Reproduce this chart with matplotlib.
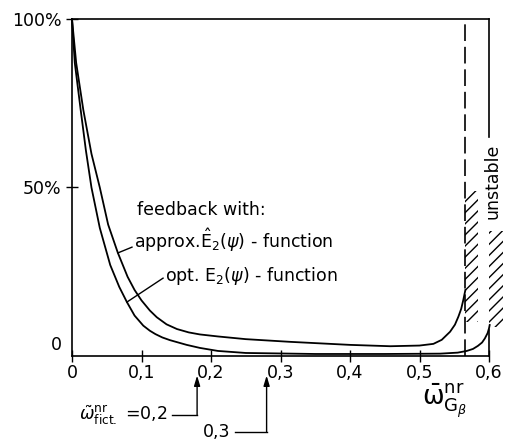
import matplotlib
matplotlib.use("Agg")
import matplotlib.pyplot as plt
from matplotlib.patches import Rectangle

# ---- data ----
approx_x = [0, 0.006, 0.0163, 0.028, 0.040, 0.052, 0.066, 0.080, 0.090, 0.100, 0.112, 0.122,
            0.136, 0.151, 0.168, 0.184, 0.21, 0.25, 0.314, 0.40, 0.458, 0.50, 0.520, 0.532,
            0.544, 0.551, 0.556, 0.560, 0.563, 0.566]
approx_y = [100, 87, 73, 60, 50, 39, 30.6, 23.5, 19.6, 16.5, 13.5, 11.5,
            9.4, 8.0, 7.0, 6.4, 5.8, 5.0, 4.2, 3.3, 2.9, 3.1, 3.6, 4.8,
            7.2, 9.3, 11.7, 14.0, 16.6, 19.6]

opt_x = [0, 0.004, 0.0125, 0.020, 0.028, 0.040, 0.055, 0.068, 0.079, 0.090, 0.1026, 0.112,
         0.120, 0.130, 0.141, 0.165, 0.184, 0.21, 0.25, 0.35, 0.45, 0.53, 0.555, 0.568,
         0.577, 0.584, 0.590, 0.594, 0.598, 0.600, 0.601]
opt_y = [100, 87, 73, 61, 50, 38, 27, 20.5, 16.0, 12.0, 9.0, 7.5,
         6.5, 5.5, 4.7, 3.3, 2.4, 1.5, 0.9, 0.6, 0.6, 0.7, 1.0, 1.5,
         2.1, 3.0, 4.0, 5.2, 6.8, 8.2, 9.2]

x_ticks = [0, 0.1, 0.2, 0.3, 0.4, 0.5, 0.6]
x_ticklabels = ["0", "0,1", "0,2", "0,3", "0,4", "0,5", "0,6"]
y_ticks = [50, 100]
y_ticklabels = ["50%", "100%"]

stability_limit_opt = 0.565
stability_limit_approx = 0.6
omega_fict = [0.18, 0.28]
omega_fict_labels = [r"$\tilde{\omega}^{\mathrm{nr}}_{\mathrm{fict.}}$ =0,2", "0,3"]

plt.rcParams["font.family"] = ["DejaVu Sans"]
plt.rcParams["mathtext.fontset"] = "dejavusans"
plt.rcParams["hatch.linewidth"] = 1.0

fig = plt.figure(figsize=(5.05, 4.4), dpi=100)
ax = fig.add_axes([72 / 505, 1 - 356 / 440, 417 / 505, 337 / 440])
ax.set_xlim(0, 0.6)
ax.set_ylim(0, 100)

lw = 1.3
ax.plot(approx_x, approx_y, color="black", lw=lw, clip_on=False, solid_joinstyle="round")
ax.plot(opt_x, opt_y, color="black", lw=lw, clip_on=False, solid_joinstyle="round")

# dashed stability limit
ax.plot([stability_limit_opt, stability_limit_opt], [0, 100], color="black", lw=1.2,
        linestyle=(0, (10, 3.5)))

# spines
ax.spines["right"].set_visible(False)
for s in ["left", "bottom", "top"]:
    ax.spines[s].set_linewidth(1.2)
ax.plot([stability_limit_approx] * 2, [65, 100], color="black", lw=1.2, clip_on=False)
ax.plot([stability_limit_approx] * 2, [0, 7.8], color="black", lw=1.2, clip_on=False)

# hatched unstable regions
ax.add_patch(Rectangle((stability_limit_opt, 10), 0.019, 39, fill=False, hatch="///",
                       linewidth=0, edgecolor="black", clip_on=False))
ax.add_patch(Rectangle((stability_limit_approx, 8.6), 0.02, 28.6, fill=False, hatch="///",
                       linewidth=0, edgecolor="black", clip_on=False))
ax.text(0.6045, 51.8, "unstable", rotation=90, ha="center", va="center", fontsize=12.5,
        clip_on=False)

# ticks
ax.set_xticks(x_ticks)
ax.set_xticklabels(x_ticklabels, fontsize=12.5)
ax.set_yticks(y_ticks)
ax.set_yticklabels(y_ticklabels, fontsize=12.5)
ax.tick_params(axis="both", direction="inout", length=8, width=1.0)
ax.tick_params(axis="x", pad=2)
ax.tick_params(axis="y", pad=3.5)
ax.text(-0.014, 3.2, "0", ha="right", va="center", fontsize=12.5)

# annotations
fs = 12.5
ax.text(0.0935, 43.3, "feedback with:", ha="left", va="center", fontsize=fs)
ax.text(0.089, 34.4, r"approx.$\hat{\mathrm{E}}_2(\psi)$ - function", ha="left", va="center", fontsize=fs)
ax.plot([0.0863, 0.0662], [32.3, 30.6], color="black", lw=1.0)
ax.text(0.134, 23.7, r"opt. $\mathrm{E}_2(\psi)$ - function", ha="left", va="center", fontsize=fs)
ax.plot([0.131, 0.079], [23.1, 16.0], color="black", lw=1.0)

# fictitious frequency arrows below axis
label_y = [-17.5, -22.6]
label_x = [0.137, 0.228]
line_start = [0.144, 0.235]
for xv, lab, ly, lx, ls in zip(omega_fict, omega_fict_labels, label_y, label_x, line_start):
    ax.plot([ls, xv], [ly, ly], color="black", lw=1.0, clip_on=False)
    ax.annotate("", xy=(xv, -5.8), xytext=(xv, ly), xycoords="data",
                arrowprops=dict(arrowstyle="-|>,head_length=0.6,head_width=0.18",
                                color="black", lw=1.0, shrinkA=0, shrinkB=0),
                annotation_clip=False)
    ax.text(lx, ly, lab, ha="right", va="center", fontsize=fs, clip_on=False)

# axis label
fig.text(445 / 505, 1 - 401 / 440, r"$\bar{\mathrm{\omega}}^{\mathrm{nr}}_{\mathrm{G}_{\beta}}$",
         ha="center", va="center", fontsize=18.5)

fig.savefig("out.png", dpi=100)
